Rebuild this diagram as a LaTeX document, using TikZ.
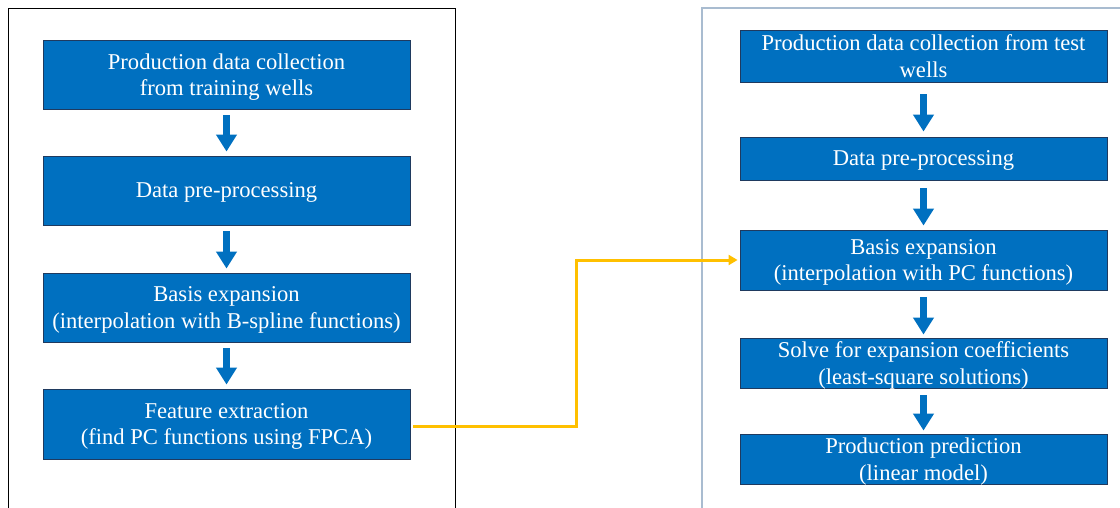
\documentclass[tikz,border=0pt]{standalone}
\usepackage{fontspec}
\setmainfont{Liberation Serif}
\usetikzlibrary{arrows.meta}
\definecolor{boxblue}{HTML}{0070C0}
\definecolor{boxedge}{HTML}{1F3A5F}
\definecolor{conn}{HTML}{FFC000}
\definecolor{framer}{HTML}{A9BCD0}
\tikzset{
  stepbox/.style={rectangle, draw=boxedge, line width=0.9pt, fill=boxblue, text=white,
    minimum width=367pt, inner sep=0pt, align=center, text depth=-3pt,
    font=\fontsize{22.6}{26.5}\selectfont},
  flowarrow/.style={draw=boxblue, line width=7pt, -{Triangle[width=20pt,length=17pt]}},
  linkarrow/.style={draw=conn, line width=3pt, -{Triangle[width=10pt,length=9pt]}},
}
\begin{document}
\begin{tikzpicture}[x=1pt,y=-1pt]
\useasboundingbox (0,0) rectangle (1120,508);
% frames
\draw[black, line width=0.8pt] (8,512) -- (8,8) -- (455,8) -- (455,512);
\draw[framer, line width=1.2pt] (702,512) -- (702,8) -- (1124,8);
% left column
\node[stepbox, minimum height=69pt] (b1) at (226.5,74.5) {Production data collection\\from training wells};
\node[stepbox, minimum height=69pt] (b2) at (226.5,190.5) {Data pre-processing};
\node[stepbox, minimum height=69pt] (b3) at (226.5,307.5) {Basis expansion\\(interpolation with B-spline functions)};
\node[stepbox, minimum height=70pt] (b4) at (226.5,424) {Feature extraction\\(find PC functions using FPCA)};
% right column
\node[stepbox, minimum height=52pt] (r1) at (923.5,56) {Production data collection from test\\wells};
\node[stepbox, minimum height=43pt] (r2) at (923.5,158.5) {Data pre-processing};
\node[stepbox, minimum height=60pt] (r3) at (923.5,260) {Basis expansion\\(interpolation with PC functions)};
\node[stepbox, minimum height=50pt] (r4) at (923.5,363) {Solve for expansion coefficients\\(least-square solutions)};
\node[stepbox, minimum height=50pt] (r5) at (923.5,459) {Production prediction\\(linear model)};
% flow arrows
\draw[flowarrow, shorten <=6pt, shorten >=4pt] (b1.south) -- (b2.north);
\draw[flowarrow, shorten <=6pt, shorten >=4pt] (b2.south) -- (b3.north);
\draw[flowarrow, shorten <=6pt, shorten >=4pt] (b3.south) -- (b4.north);
\draw[flowarrow, shorten <=12pt, shorten >=5pt] (r1.south) -- (r2.north);
\draw[flowarrow, shorten <=8pt, shorten >=4pt] (r2.south) -- (r3.north);
\draw[flowarrow, shorten <=7pt, shorten >=3pt] (r3.south) -- (r4.north);
\draw[flowarrow, shorten <=7pt, shorten >=3pt] (r4.south) -- (r5.north);
% link
\coordinate (bend) at (576,426);
\draw[linkarrow] ([xshift=3pt,yshift=-2pt]b4.east) -- (bend) -- (bend |- r3.west) -- ([xshift=-2pt]r3.west);
\end{tikzpicture}
\end{document}
